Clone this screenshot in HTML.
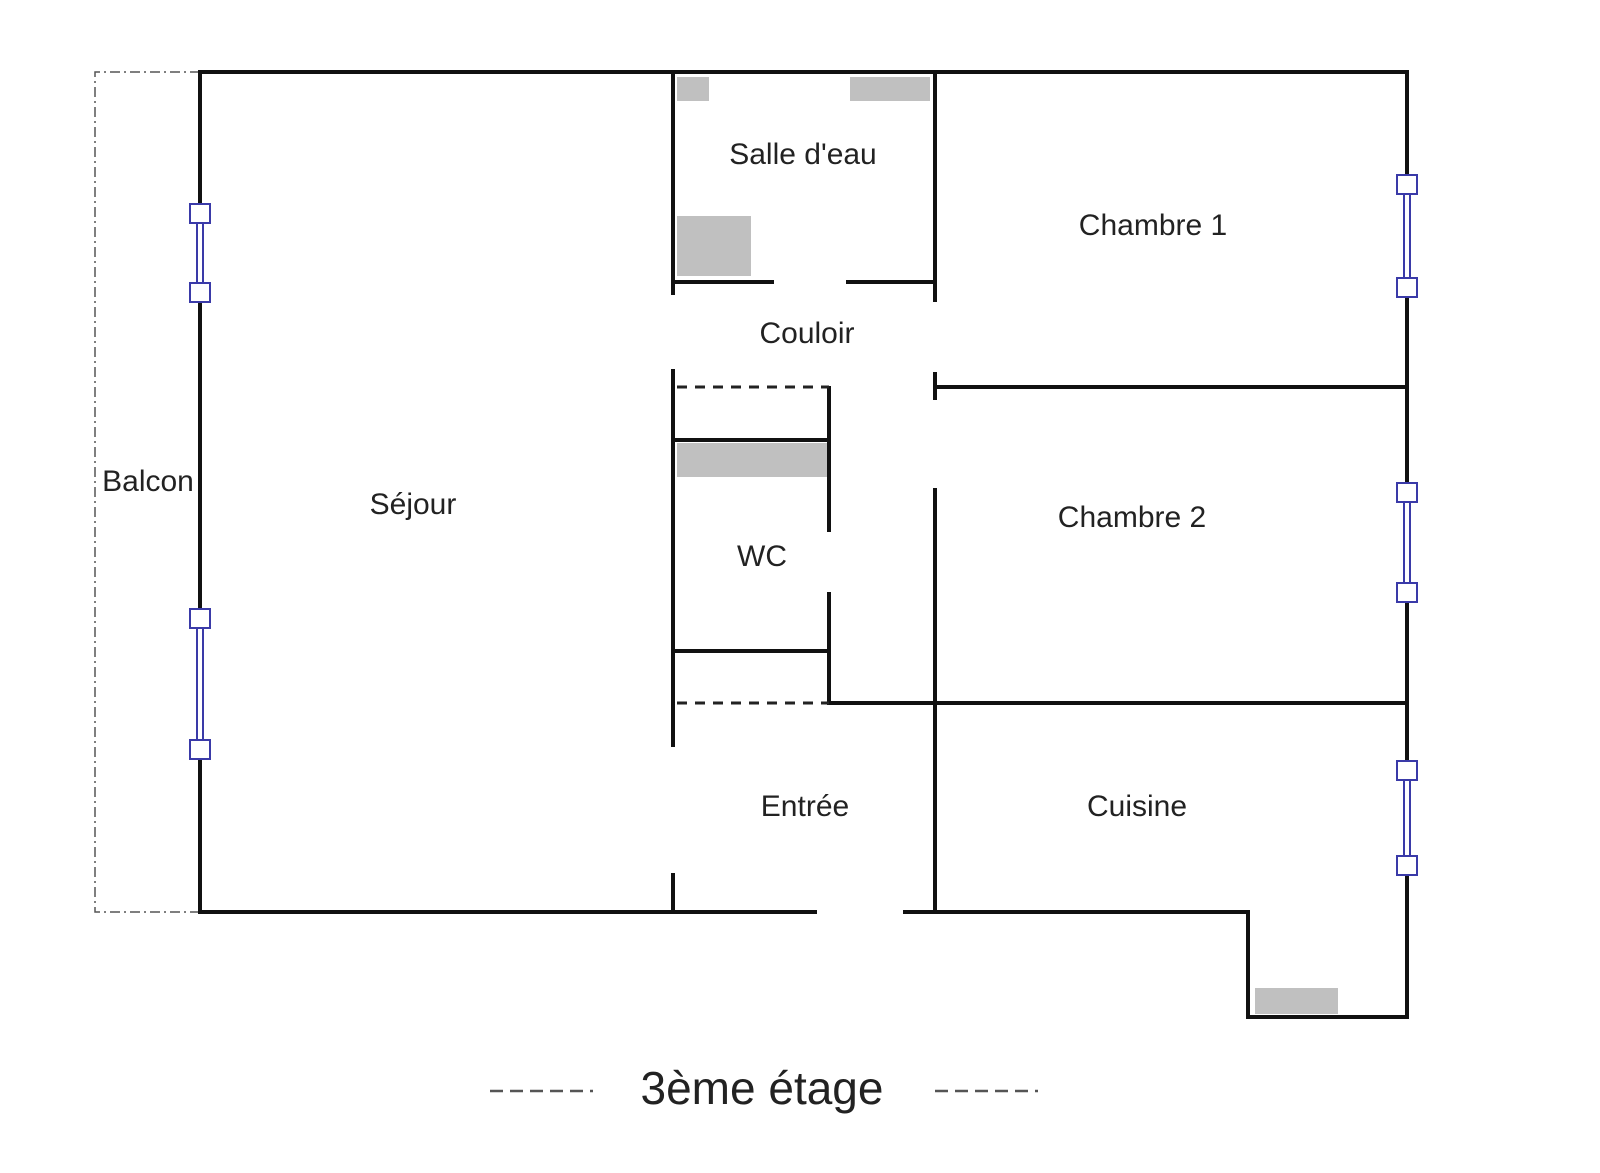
<!DOCTYPE html>
<html><head><meta charset="utf-8"><style>
html,body{margin:0;padding:0;background:#fff;}
svg{display:block;}
text{font-family:"Liberation Sans","DejaVu Sans",sans-serif;fill:#222;}
</style></head><body>
<svg width="1600" height="1173" viewBox="0 0 1600 1173" xmlns="http://www.w3.org/2000/svg">
<g fill="#c0c0c0">
<rect x="677" y="77" width="32" height="24"/>
<rect x="850" y="77" width="80" height="24"/>
<rect x="677" y="216" width="74" height="60"/>
<rect x="677" y="443" width="150" height="34"/>
<rect x="1255" y="988" width="83" height="26"/>
</g>
<g stroke="#555" stroke-width="1.5" fill="none" stroke-dasharray="10,4,2,4">
<polyline points="200,72 95,72 95,912 200,912"/>
</g>
<g stroke="#111" stroke-width="4" fill="none" stroke-linecap="square">
<line x1="200" y1="72" x2="1407" y2="72"/>
<line x1="200" y1="72" x2="200" y2="912"/>
<line x1="200" y1="912" x2="815" y2="912"/>
<polyline points="905,912 1248,912 1248,1017 1407,1017 1407,72"/>
<line x1="673" y1="72" x2="673" y2="293"/>
<line x1="673" y1="371" x2="673" y2="745"/>
<line x1="673" y1="875" x2="673" y2="912"/>
<line x1="673" y1="282" x2="772" y2="282"/>
<line x1="848" y1="282" x2="935" y2="282"/>
<line x1="935" y1="72" x2="935" y2="300"/>
<line x1="935" y1="374" x2="935" y2="398"/>
<line x1="935" y1="387" x2="1407" y2="387"/>
<line x1="935" y1="490" x2="935" y2="912"/>
<line x1="829" y1="703" x2="1407" y2="703"/>
<line x1="829" y1="388" x2="829" y2="530"/>
<line x1="829" y1="594" x2="829" y2="703"/>
<line x1="673" y1="440" x2="829" y2="440"/>
<line x1="673" y1="651" x2="829" y2="651"/>
</g>
<g stroke="#222" stroke-width="3" stroke-dasharray="10,8">
<line x1="677" y1="387" x2="829" y2="387"/>
<line x1="677" y1="703" x2="829" y2="703"/>
</g>
<g fill="#fff">
<rect x="196" y="213" width="8" height="79"/>
<rect x="196" y="618" width="8" height="132"/>
<rect x="1403" y="184" width="8" height="103"/>
<rect x="1403" y="492" width="8" height="100"/>
<rect x="1403" y="770" width="8" height="95"/>
</g>
<g stroke="#3a3aa8" stroke-width="2" fill="#fff">
<g>
<line x1="197" y1="213" x2="197" y2="292"/><line x1="203" y1="213" x2="203" y2="292"/>
<rect x="190" y="204" width="20" height="19"/><rect x="190" y="283" width="20" height="19"/>
</g>
<g>
<line x1="197" y1="618" x2="197" y2="750"/><line x1="203" y1="618" x2="203" y2="750"/>
<rect x="190" y="609" width="20" height="19"/><rect x="190" y="740" width="20" height="19"/>
</g>
<g>
<line x1="1404" y1="184" x2="1404" y2="287"/><line x1="1410" y1="184" x2="1410" y2="287"/>
<rect x="1397" y="175" width="20" height="19"/><rect x="1397" y="278" width="20" height="19"/>
</g>
<g>
<line x1="1404" y1="492" x2="1404" y2="592"/><line x1="1410" y1="492" x2="1410" y2="592"/>
<rect x="1397" y="483" width="20" height="19"/><rect x="1397" y="583" width="20" height="19"/>
</g>
<g>
<line x1="1404" y1="770" x2="1404" y2="865"/><line x1="1410" y1="770" x2="1410" y2="865"/>
<rect x="1397" y="761" width="20" height="19"/><rect x="1397" y="856" width="20" height="19"/>
</g>
</g>
<g font-size="30" text-anchor="middle">
<text x="803" y="164">Salle d'eau</text>
<text x="1153" y="235">Chambre 1</text>
<text x="807" y="343">Couloir</text>
<text x="148" y="491">Balcon</text>
<text x="413" y="514">Séjour</text>
<text x="1132" y="527">Chambre 2</text>
<text x="762" y="566">WC</text>
<text x="805" y="816">Entrée</text>
<text x="1137" y="816">Cuisine</text>
</g>
<text x="762" y="1104" font-size="46" text-anchor="middle">3ème étage</text>
<g stroke="#555" stroke-width="2.5" stroke-dasharray="13,7">
<line x1="490" y1="1091" x2="593" y2="1091"/>
<line x1="935" y1="1091" x2="1038" y2="1091"/>
</g>
</svg>
</body></html>
